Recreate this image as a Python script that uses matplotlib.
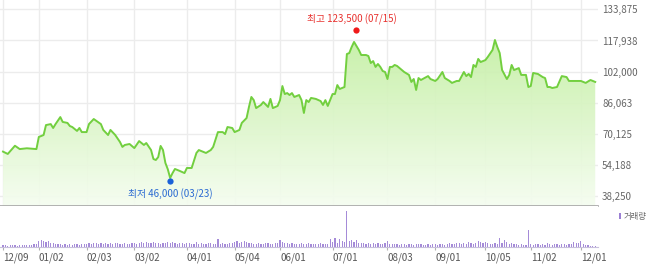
import numpy as np
import matplotlib
matplotlib.use("Agg")
import matplotlib.pyplot as plt
from matplotlib.colors import LinearSegmentedColormap
from matplotlib.patches import Rectangle

plt.rcParams['font.family'] = ['Noto Sans CJK KR', 'DejaVu Sans']

# closing price (trading-day index from 2019-12-09)
price_days = [0, 2, 5, 7, 10, 14, 15, 17, 18, 20, 21, 22, 24, 25, 27, 28, 29, 31, 32, 33,
              35, 36, 38, 41, 42, 44, 45, 47, 49, 50, 51, 53, 55, 57, 59, 60, 62, 63, 64, 65,
              66, 67, 68, 69, 70, 71, 72, 74, 76, 77, 79, 81, 82, 85, 87, 88, 90, 92, 93, 94,
              96, 97, 99, 100, 102, 103, 104, 105, 106, 108, 109, 111, 112, 113, 115, 116, 117, 118, 119, 120,
              121, 122, 124, 125, 126, 127, 128, 129, 131, 133, 134, 135, 136, 137, 138, 139, 140, 141, 143, 144,
              145, 146, 147, 149, 150, 152, 153, 154, 155, 156, 157, 158, 159, 160, 161, 162, 163, 164, 165, 167,
              168, 170, 171, 172, 173, 174, 175, 178, 179, 181, 182, 184, 185, 187, 188, 190, 191, 193, 194, 195,
              196, 197, 198, 199, 200, 202, 203, 205, 206, 207, 208, 209, 211, 212, 213, 214, 216, 217, 219, 220,
              221, 222, 224, 226, 227, 228, 229, 230, 232, 234, 236, 237, 240, 242, 243, 244, 246, 248]
close = [61000, 59800, 64000, 62300, 62700, 62300, 68500, 69500, 74600, 75100, 73100, 75100, 78700, 76200, 75700, 74100, 73600, 71600, 73100, 71000,
         71000, 75100, 77700, 75100, 72100, 69500, 72100, 69500, 65900, 63400, 64400, 64900, 62800, 66400, 64400, 65400, 61800, 57200, 56700, 58200,
         63900, 61800, 55200, 52000, 47500, 50000, 52100, 51100, 50000, 52600, 52600, 60300, 61800, 60300, 61800, 63400, 71000, 71000, 70000, 73600,
         73100, 71000, 72100, 75700, 78200, 83900, 89000, 87400, 83300, 84900, 86400, 83900, 88000, 83300, 84400, 87400, 94600, 90500, 91000, 90000,
         91000, 89000, 90000, 87400, 80800, 87400, 86400, 88500, 88000, 86900, 84900, 87400, 84400, 87400, 90500, 90500, 95100, 93100, 94100, 111000,
         111500, 114600, 117200, 113100, 110500, 110500, 110000, 106400, 107400, 104400, 105900, 104400, 102300, 101800, 98200, 104400, 104400, 105400, 104900, 102800,
         101800, 100300, 96700, 98200, 92600, 98700, 97700, 99700, 98200, 97200, 98200, 101800, 98700, 97200, 96200, 97200, 97200, 101800, 99700, 100800,
         99200, 105400, 104400, 108500, 106900, 107900, 109500, 113100, 118200, 114600, 111500, 102800, 98200, 100300, 105400, 102800, 103800, 100300, 100300, 94100,
         94600, 101300, 100800, 99200, 98700, 94100, 94100, 93600, 94100, 99700, 99200, 97200, 97200, 97200, 96700, 96200, 97700, 96700]

# daily volume (10k shares)
volume = [2, 2, 1, 2, 2, 2, 1, 2, 2, 2, 2, 2, 2, 3, 3,
          6, 7, 6, 5, 6, 4, 4, 3,
          3, 3, 2, 3, 2, 3, 2, 3, 3, 2, 3, 3, 3,
          4, 3, 4, 4, 3, 4, 3, 4, 3, 4, 3, 4, 4, 3, 3, 4, 3, 3, 4, 4,
          3, 4, 5, 4, 5, 4, 4, 5, 4, 4, 3, 4, 4, 5, 4, 5, 4, 3, 4, 4, 3,
          4, 4, 3, 3, 5, 3, 4, 3, 3, 4, 4, 3, 3, 8, 3, 4, 3, 3, 4,
          4, 5, 6, 4, 5, 6, 5, 4, 4, 3, 3, 4, 3, 3, 4, 4, 3, 3, 4, 4,
          7, 5, 4, 4, 3, 4, 3, 3, 3, 4, 3, 3, 4, 3, 3, 3, 3, 4, 3, 3, 3,
          8, 5, 9, 4, 8, 6, 5,
          35,
          6, 7, 5, 7, 4, 4, 4, 3, 4, 3, 4, 3, 4, 3, 3, 4,
          6,
          3, 3, 3, 3, 2, 3, 3, 2, 3, 3, 2, 3, 3, 3, 2, 2, 3, 2, 3, 3, 2, 3, 3, 2, 3, 4, 3, 3, 4, 4, 3, 4, 3, 5, 4, 3, 4, 6, 5,
          4, 5, 4, 3, 3, 4, 3, 9, 4, 7, 5, 3, 4, 3, 3, 2, 3, 2, 2,
          17,
          3, 2, 3, 3, 2, 3, 2, 4, 3, 2, 3, 3, 2, 3, 3, 2, 3, 3, 5, 4, 4, 6, 3, 2, 2, 1, 1, 1]

tick_days = [0, 15, 35, 55, 77, 97, 116, 138, 161, 181, 202, 221, 242]
tick_labels = ['12/09', '01/02', '02/03', '03/02', '04/01', '05/04', '06/01',
               '07/01', '08/03', '09/01', '10/05', '11/02', '12/01']
price_ticks = [38250, 54188, 70125, 86063, 102000, 117938, 133875]

high_day, high_val, high_txt = 148, 123500, '최고 123,500 (07/15)'
low_day, low_val, low_txt = 70, 46000, '최저 46,000 (03/23)'

W, H = 650, 267
fig = plt.figure(figsize=(W / 100, H / 100), dpi=100)
ax = fig.add_axes([0, 61 / H, 598 / W, 206 / H])
axv = fig.add_axes([0, 20 / H, 598 / W, 41 / H])

xlim = (-1.256, 249.16)
ylim = (33125, 138692)
grid_c = '#ececec'
label_c = '#666666'

# price panel
ax.set_xlim(*xlim)
ax.set_ylim(*ylim)
for d in tick_days:
    ax.axvline(d, color=grid_c, lw=1, zorder=0)
for p in price_ticks:
    ax.axhline(p, color=grid_c, lw=1, zorder=0)

fill = ax.fill_between(price_days, close, ylim[0], color='none', lw=0)
cmap = LinearSegmentedColormap.from_list('g', ['#f5fdf0', '#b9ec92'])
grad = np.linspace(0, 1, 256).reshape(-1, 1)
im = ax.imshow(grad, extent=[xlim[0], xlim[1], ylim[0], ylim[1]], origin='lower',
               aspect='auto', cmap=cmap, zorder=1, alpha=0.92)
im.set_clip_path(fill.get_paths()[0], transform=ax.transData)
ax.plot(price_days, close, color='#72cf3f', lw=1.4, zorder=3)

ax.plot(high_day, high_val, 'o', color='#f01a1a', ms=4.5, mec='none', zorder=4)
ax.annotate(high_txt, (high_day, high_val), xytext=(-3.5, 7.5), textcoords='offset points',
            ha='center', va='center', fontsize=7, color='#e8322f')
ax.plot(low_day, low_val, 'o', color='#1b62d8', ms=4.5, mec='none', zorder=4)
ax.annotate(low_txt, (low_day, low_val), xytext=(0, -9.5), textcoords='offset points',
            ha='center', va='center', fontsize=7, color='#2a6ad2')

ax.yaxis.tick_right()
ax.set_yticks(price_ticks)
ax.set_yticklabels([f'{p:,}' for p in price_ticks])
ax.tick_params(axis='y', length=0, pad=3, labelsize=7, labelcolor=label_c)
ax.set_xticks([])
for s in ['top', 'left', 'right']:
    ax.spines[s].set_visible(False)
ax.spines['bottom'].set_color('#a5a5a5')
ax.spines['bottom'].set_linewidth(1.2)
ax.patch.set_alpha(0)

# volume panel
axv.set_xlim(*xlim)
axv.set_ylim(0, max(volume) * 40 / 35)
axv.bar(np.arange(len(volume)), volume, width=0.5, color='#a58bd8', lw=0)
axv.set_yticks([])
axv.set_xticks(tick_days)
axv.set_xticklabels(tick_labels, ha='left')
axv.tick_params(axis='x', length=2.5, width=0.8, color='#b0b0b0', pad=1.5,
                labelsize=7, labelcolor='#555555')
for s in ['top', 'left', 'right']:
    axv.spines[s].set_visible(False)
axv.spines['bottom'].set_color('#c8c0dc')
axv.spines['bottom'].set_linewidth(0.8)

fig.patches.append(Rectangle((619 / W, 1 - 219 / H), 2 / W, 6 / H, transform=fig.transFigure,
                             color='#9b80d4', lw=0))
fig.text(624 / W, 1 - 216 / H, '거래량', fontsize=6, color='#666666', ha='left', va='center')

fig.savefig('out.png', dpi=100)
